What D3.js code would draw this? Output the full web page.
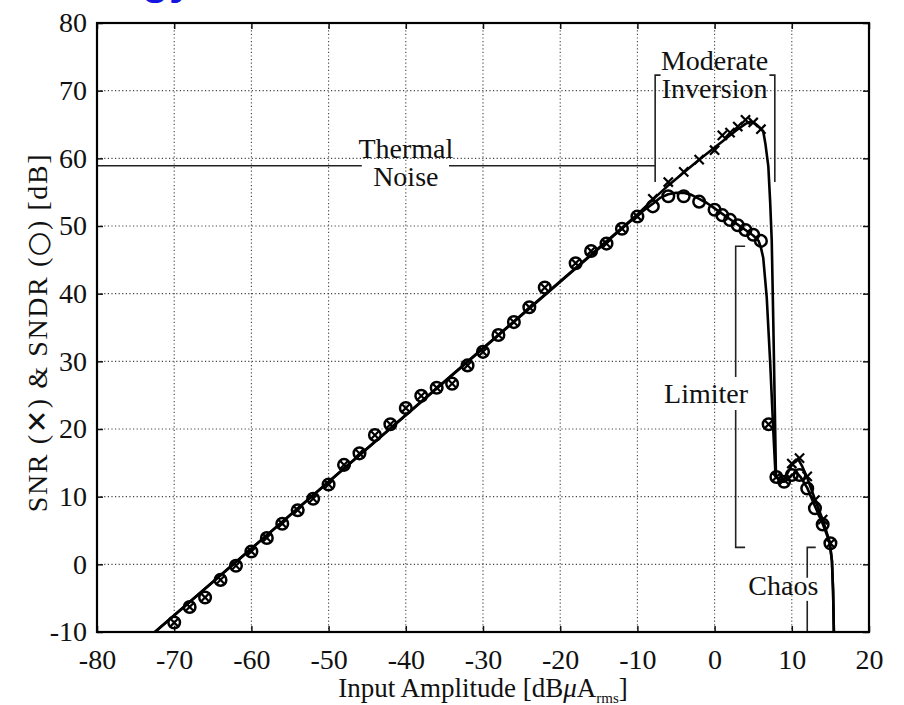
<!DOCTYPE html>
<html>
<head>
<meta charset="utf-8">
<script src="https://cdn.jsdelivr.net/npm/d3@7"></script>
<style>
  body { margin: 0; background: #fff; }
</style>
</head>
<body>
<svg id="chart" width="904" height="705"></svg>
<script>
// measured points (dBuA rms in, dB out)
const inputLevels = [-70, -68, -66, -64, -62, -60, -58, -56, -54, -52, -50, -48, -46, -44, -42, -40, -38, -36, -34, -32,
    -30, -28, -26, -24, -22, -18, -16, -14, -12, -10, -8, -6, -4, -2, 0, 1, 2, 3, 4, 5, 6, 7, 8, 9, 10, 11, 12, 13, 14, 15];
const snrValues = [-8.6, -6.3, -4.9, -2.3, -0.2, 1.9, 3.9, 6.0, 8.0, 9.7, 11.8, 14.7, 16.4, 19.1, 20.7, 23.1, 24.9, 26.1, 26.7, 29.4,
    31.4, 33.9, 35.8, 38.0, 40.9, 44.5, 46.3, 47.4, 49.6, 51.4, 54.0, 56.5, 58.0, 59.8, 61.2, 63.4, 63.8, 64.7, 65.7, 65.3, 64.3, 20.7, 12.9, 12.5, 14.9, 15.7, 13.0, 9.5, 6.6, 3.1];
const sndrValues = [-8.6, -6.3, -4.9, -2.3, -0.2, 1.9, 3.9, 6.0, 8.0, 9.7, 11.8, 14.7, 16.4, 19.1, 20.7, 23.1, 24.9, 26.1, 26.7, 29.4,
    31.4, 33.9, 35.8, 38.0, 40.9, 44.5, 46.3, 47.4, 49.6, 51.4, 52.9, 54.4, 54.4, 53.6, 52.4, 51.6, 50.9, 50.1, 49.4, 48.7, 47.8, 20.7, 12.9, 12.2, 13.2, 13.2, 11.2, 8.3, 5.9, 3.1];

// model curves
const snrFitX = [-72.5, -10, -8, -6, -4, -2, 0, 1, 2, 3, 4, 4.6, 5.2, 5.8, 6.3, 6.6, 6.96, 7.2, 7.4, 7.6, 7.8, 7.95,
    8.5, 9, 9.5, 10, 10.8, 11.3, 12, 13, 14, 14.9, 15.2, 15.35, 15.45];
const snrFitY = [-10, 51.7, 53.9, 56.0, 57.9, 59.8, 61.6, 62.5, 63.4, 64.3, 65.1, 65.4, 65.2, 64.6, 64.0, 62.0, 58.8, 53.5, 47.9, 36.0, 23.0, 13.0,
    12.4, 12.6, 13.6, 14.7, 15.6, 14.6, 12.8, 9.6, 6.6, 3.3, 0.5, -4, -10];
const sndrFitX = [-72.5, -10, -8, -7, -6, -5, -4, -3, -2, -1, 0, 1, 2, 3, 4, 5, 5.7, 6, 6.3, 6.75, 7.2, 7.6, 7.9,
    8.5, 9, 9.5, 10, 10.6, 11.2, 12, 13, 14, 14.9, 15.2, 15.35, 15.45];
const sndrFitY = [-10, 51.6, 53.3, 54.2, 54.7, 54.9, 54.9, 54.6, 54.0, 53.4, 52.6, 51.8, 51.0, 50.2, 49.4, 48.6, 47.8, 46.8, 45.3, 39.5, 29.8, 19.8, 13.0,
    12.3, 12.2, 12.6, 13.2, 13.6, 12.8, 11.3, 8.6, 6.0, 3.3, 0.5, -4, -10];

const xTicks = [-80, -70, -60, -50, -40, -30, -20, -10, 0, 10, 20];
const yTicks = [-10, 0, 10, 20, 30, 40, 50, 60, 70, 80];

const serif = "'Liberation Serif', 'DejaVu Serif', 'Noto Serif', 'Times New Roman', Times, serif";

const svg = d3.select("#chart");
const margin = { top: 23, right: 35, bottom: 73, left: 97 };
const width = 904, height = 705;
const graphWidth = width - margin.left - margin.right;
const graphHeight = height - margin.top - margin.bottom;

svg.append("rect").attr("width", width).attr("height", height).attr("fill", "#fff");

// cut-off slide title above the plot
svg.append("text")
    .attr("x", 142).attr("y", -6)
    .attr("font-family", "'Liberation Sans', Arial, sans-serif")
    .attr("font-weight", "bold")
    .attr("font-size", 44)
    .attr("fill", "#1515e0")
    .text("gy");

const x = d3.scaleLinear().domain([-80, 20]).range([0, graphWidth]);
const y = d3.scaleLinear().domain([-10, 80]).range([graphHeight, 0]);

const graph = svg.append("g")
    .attr("transform", `translate(${margin.left}, ${margin.top})`);

// dotted grid
graph.append("g").selectAll("line")
    .data(xTicks.slice(1, -1))
    .enter().append("line")
    .attr("x1", d => x(d)).attr("x2", d => x(d))
    .attr("y1", 0).attr("y2", graphHeight)
    .attr("stroke", "#444").attr("stroke-width", 1.1)
    .attr("stroke-dasharray", "1.2,2.4");
graph.append("g").selectAll("line")
    .data(yTicks.slice(1, -1))
    .enter().append("line")
    .attr("x1", 0).attr("x2", graphWidth)
    .attr("y1", d => y(d)).attr("y2", d => y(d))
    .attr("stroke", "#444").attr("stroke-width", 1.1)
    .attr("stroke-dasharray", "1.2,2.4");

// inward ticks on all four sides
const tickStyle = g => {
    g.attr("font-family", serif).attr("font-size", 28);
    g.select(".domain").remove();
    g.selectAll(".tick line").attr("stroke", "#111").attr("stroke-width", 1.5);
    g.selectAll("text").attr("fill", "#111");
};
graph.append("g")
    .attr("transform", `translate(0, ${graphHeight})`)
    .call(d3.axisBottom(x).tickValues(xTicks).tickSize(-6).tickPadding(12).tickFormat(d => String(d)))
    .call(tickStyle)
    .selectAll("text").attr("dy", "0.9em");
graph.append("g")
    .call(d3.axisTop(x).tickValues(xTicks).tickSize(-6).tickFormat(""))
    .call(tickStyle);
graph.append("g")
    .call(d3.axisLeft(y).tickValues(yTicks).tickSize(-6).tickPadding(10).tickFormat(d => String(d)))
    .call(tickStyle);
graph.append("g")
    .attr("transform", `translate(${graphWidth}, 0)`)
    .call(d3.axisRight(y).tickValues(yTicks).tickSize(-6).tickFormat(""))
    .call(tickStyle);

// annotations
const ann = graph.append("g")
    .attr("fill", "none")
    .attr("stroke", "#222")
    .attr("stroke-width", 1.6);
const seg = (x1, y1, x2, y2) => ann.append("line")
    .attr("x1", x(x1)).attr("y1", y(y1)).attr("x2", x(x2)).attr("y2", y(y2));
// thermal noise
seg(-80, 58.9, -45.7, 58.9);
seg(-34.4, 58.9, -7.7, 58.9);
// moderate inversion
ann.append("path").attr("d", `M${x(-7.0)},${y(72.3)} H${x(-7.7)} V${y(56.5)}`);
ann.append("path").attr("d", `M${x(7.1)},${y(72.3)} H${x(7.8)} V${y(56.5)}`);
// limiter
ann.append("path").attr("d", `M${x(3.95)},${y(47.0)} H${x(2.73)} V${y(27.7)}`);
ann.append("path").attr("d", `M${x(3.95)},${y(2.5)} H${x(2.73)} V${y(22.8)}`);
// chaos
ann.append("path").attr("d", `M${x(13.1)},${y(2.5)} H${x(12.0)} V${y(-2.0)}`);
seg(12.0, -5.4, 12.0, -10);

const label = (tx, ty, str) => graph.append("text")
    .attr("x", x(tx)).attr("y", y(ty))
    .attr("text-anchor", "middle")
    .attr("font-family", serif)
    .attr("font-size", 28)
    .attr("fill", "#111")
    .text(str);
label(-40, 60.1, "Thermal");
label(-40, 55.9, "Noise");
label(0, 73.0, "Moderate");
label(0, 68.9, "Inversion");
label(-1.1, 23.9, "Limiter");
label(8.9, -4.6, "Chaos");

// model curves
const line = d3.line()
    .x(d => x(d[0]))
    .y(d => y(d[1]));
graph.append("path")
    .datum(d3.zip(snrFitX, snrFitY))
    .attr("d", line)
    .attr("fill", "none").attr("stroke", "#000").attr("stroke-width", 2.6)
    .attr("stroke-linejoin", "round");
graph.append("path")
    .datum(d3.zip(sndrFitX, sndrFitY))
    .attr("d", line)
    .attr("fill", "none").attr("stroke", "#000").attr("stroke-width", 2.6)
    .attr("stroke-linejoin", "round");

// markers
graph.append("g").selectAll("circle")
    .data(d3.zip(inputLevels, sndrValues))
    .enter().append("circle")
    .attr("cx", d => x(d[0])).attr("cy", d => y(d[1]))
    .attr("r", 5.8)
    .attr("fill", "none").attr("stroke", "#000").attr("stroke-width", 2.5);
const s = 4.6;
graph.append("g").selectAll("path")
    .data(d3.zip(inputLevels, snrValues))
    .enter().append("path")
    .attr("d", d => {
        const px = x(d[0]), py = y(d[1]);
        return `M${px - s},${py - s}L${px + s},${py + s}M${px - s},${py + s}L${px + s},${py - s}`;
    })
    .attr("stroke", "#000").attr("stroke-width", 2.2);

// frame
graph.append("rect")
    .attr("width", graphWidth).attr("height", graphHeight)
    .attr("fill", "none").attr("stroke", "#000").attr("stroke-width", 2.2);

// axis titles
svg.append("text")
    .attr("x", margin.left + graphWidth / 2)
    .attr("y", 697)
    .attr("text-anchor", "middle")
    .attr("font-family", serif)
    .attr("font-size", 27)
    .attr("fill", "#111")
    .html("Input Amplitude [dB<tspan font-style='italic'>μ</tspan>A<tspan font-size='15' dy='6'>rms</tspan><tspan dy='-6'>]</tspan>");

svg.append("text")
    .attr("transform", `translate(47, ${margin.top + graphHeight / 2 + 5}) rotate(-90)`)
    .attr("text-anchor", "middle")
    .attr("font-family", serif)
    .attr("font-size", 28)
    .attr("letter-spacing", 1.6)
    .attr("fill", "#111")
    .html("SNR (<tspan font-family='DejaVu Sans'>✕</tspan>) &amp; SNDR (<tspan font-family='DejaVu Sans'>○</tspan>) [dB]");
</script>
</body>
</html>
